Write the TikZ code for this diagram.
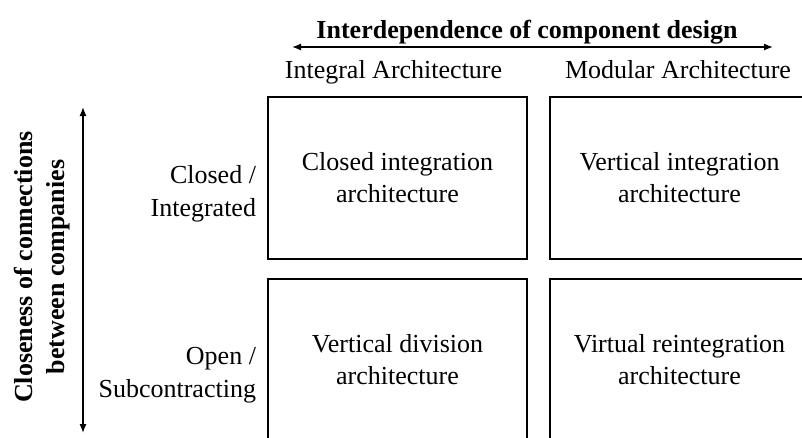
\documentclass[tikz,border=0pt]{standalone}
\usepackage{fontspec}
\setmainfont{Liberation Serif}
\usetikzlibrary{arrows.meta}
\begin{document}
\begin{tikzpicture}[x=1pt,y=-1pt,
  txt/.style={font=\fontsize{26}{32}\selectfont, inner sep=0pt, outer sep=0pt},
  boldtxt/.style={font=\fontsize{26}{32}\selectfont\bfseries, inner sep=0pt, outer sep=0pt},
  cell/.style={draw, line width=1.3pt, minimum width=259pt, minimum height=162pt, inner sep=0pt, align=center, font=\fontsize{26}{32}\selectfont},
  axis/.style={line width=1.3pt, {Latex[length=9pt,width=7pt]}-{Latex[length=9pt,width=7pt]}}]
\clip (0,0) rectangle (802,437);
\fill[white] (0,0) rectangle (802,437);
% title and horizontal axis
\node[boldtxt, anchor=base] (title) at (527,38) {Interdependence of component design};
\coordinate (hl) at (292,47);
\coordinate (hr) at (773,47);
\draw[axis] (hl) -- (hr);
\node[txt, anchor=base] (integral) at (393.5,78) {Integral Architecture};
\node[txt, anchor=base] (modular) at (678,78) {Modular Architecture};
% cells
\node[cell] (c11) at (397.5,178) {Closed integration\\architecture};
\node[cell] (c12) at (679.5,178) {Vertical integration\\architecture};
\node[cell] (c21) at (397.5,360) {Vertical division\\architecture};
\node[cell] (c22) at (679.5,360) {Virtual reintegration\\architecture};
% vertical axis
\coordinate (vt) at (83,107);
\coordinate (vb) at (83,433);
\draw[axis] (vt) -- (vb);
\node[boldtxt, align=center, rotate=90] (ylabel) at (42,267) {Closeness of connections\\between companies};
\node[txt, align=right, anchor=east, font=\fontsize{26}{33}\selectfont] (closed) at (256,194) {Closed /\\Integrated};
\node[txt, align=right, anchor=east, font=\fontsize{26}{33}\selectfont] (open) at (256,375) {Open /\\Subcontracting};
\end{tikzpicture}
\end{document}
